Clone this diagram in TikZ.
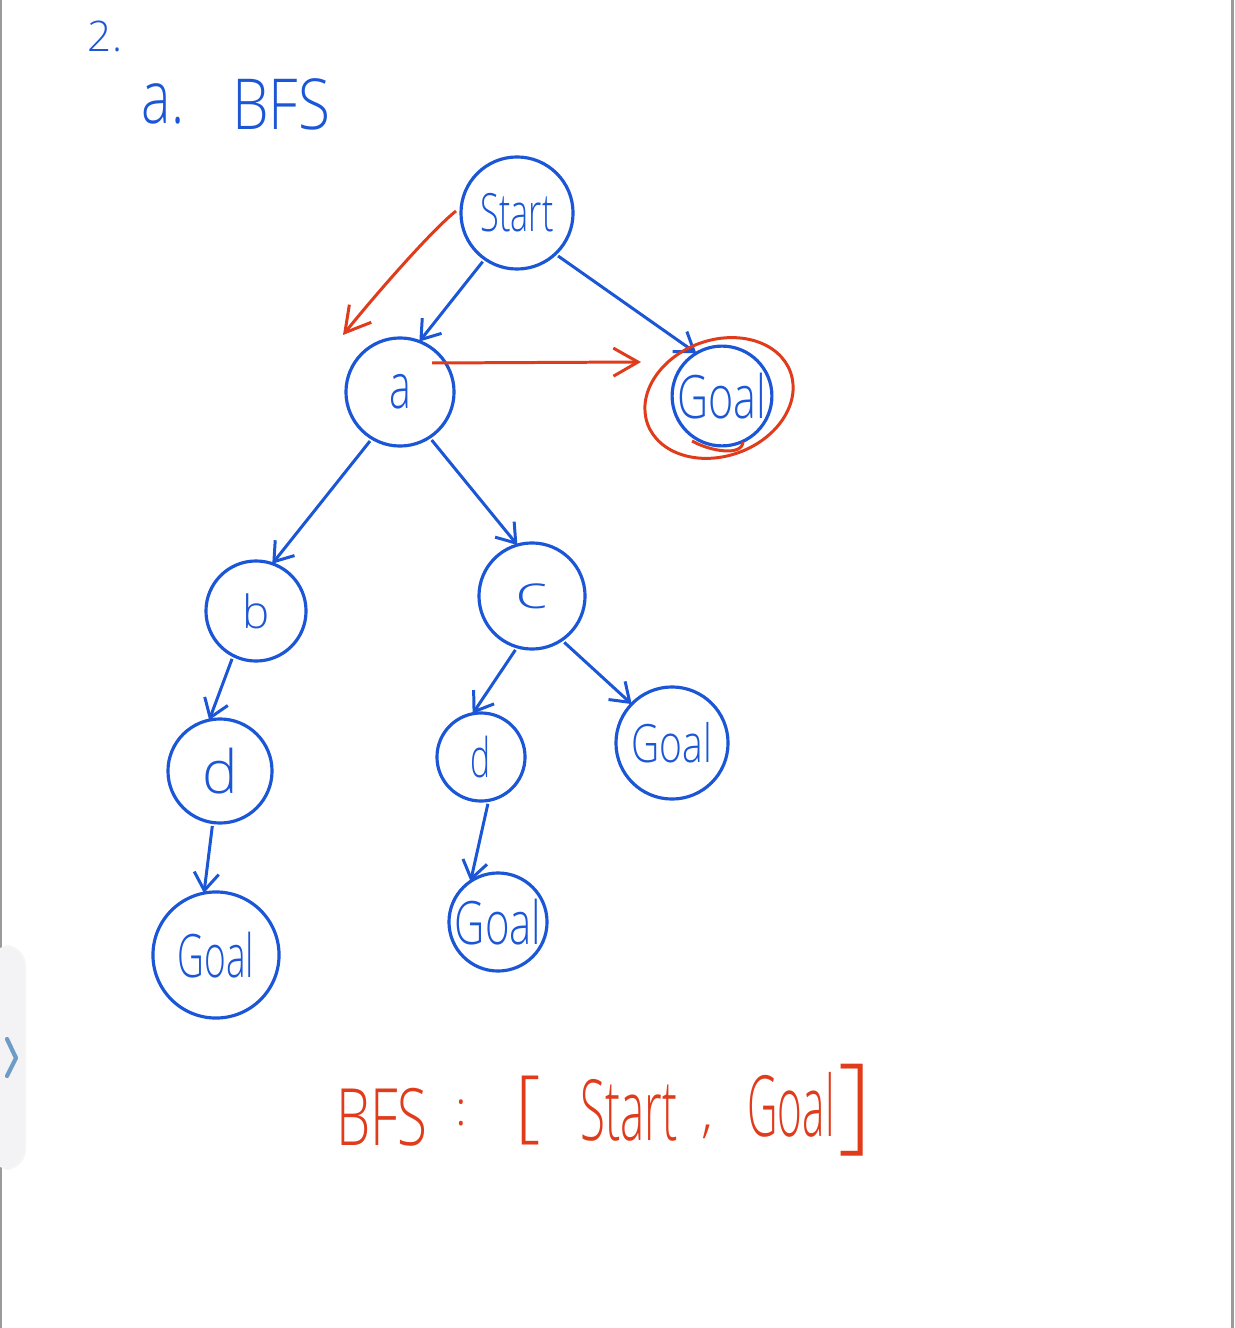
\documentclass[tikz,border=0pt]{standalone}
\usepackage{fontspec}
\setmainfont{Open Sans}[UprightFont={* Light}]
\usetikzlibrary{arrows.meta}
\definecolor{ink}{HTML}{1A56D6}
\definecolor{redink}{HTML}{E03C1C}
\definecolor{tabgrey}{HTML}{F3F3F5}
\definecolor{chev}{HTML}{6E9CC6}
\definecolor{pageborder}{HTML}{9A9A9A}
\newcommand\hwx[2]{\scalebox{#1}[1]{#2}}
\newcommand\fsz[1]{\fontsize{#1}{#1}\selectfont}
\begin{document}
\begin{tikzpicture}[x=0.01cm,y=-0.01cm,
  state/.style={circle,draw=ink,line width=0.9pt,inner sep=0pt,outer sep=0pt,text=ink},
  edge/.style={draw=ink,line width=0.85pt,-{Straight Barb[length=5pt,width=7pt]},shorten <=1pt},
  redarrow/.style={draw=redink,line width=0.85pt,-{Straight Barb[length=7pt,width=8pt]}},
  inktext/.style={inner sep=0pt,text=ink},
  redtext/.style={inner sep=0pt,text=redink}]
\fill[white] (0,0) rectangle (1234,1328);
\useasboundingbox (0,0) rectangle (1234,1328);
% page borders and side tab
\draw[pageborder,line width=0.6pt] (1,0) -- (1,1328);
\draw[pageborder,line width=0.6pt] (1232.5,0) -- (1232.5,1328);
\fill[black!4,rounded corners=6pt] (-10,945) rectangle (26,1170);
\fill[tabgrey,rounded corners=6pt] (-10,947) rectangle (24,1168);
\draw[chev,line width=1.2pt,line cap=round,line join=round] (7,1039) -- (16,1058) -- (7,1076);
% headings
\node[inktext,font=\fsz{12}] (two) at (105,36) {2.};
\node[inktext,font=\fsz{21}] (secA) at (163,104) {\hwx{0.75}{a.}};
\node[inktext,font=\fsz{20}] (secBFS) at (281,104) {\hwx{0.83}{BFS}};
% tree nodes
\node[state,minimum size=1.12cm] (start) at (517,213) {\fsz{15}\hwx{0.65}{Start}};
\node[state,minimum size=1.08cm] (a) at (400,392) {\fsz{18}\hwx{0.65}{a}};
\node[state,minimum size=0.96cm] (goal1) at (722,396) {\fsz{17}\hwx{0.72}{Goal}};
\node[state,minimum size=1.00cm] (b) at (256,611) {\fsz{13}b};
\node[state,minimum size=1.06cm] (c) at (532,596) {\fsz{13}\hwx{1.5}{c}};
\node[state,minimum size=1.04cm] (d1) at (220,771) {\fsz{17}d};
\node[state,minimum size=0.88cm] (d2) at (481,757) {\fsz{15.5}\hwx{0.62}{d}};
\node[state,minimum size=1.12cm] (goal2) at (672,743) {\fsz{15}\hwx{0.74}{Goal}};
\node[state,minimum size=1.26cm] (goal3) at (216,955) {\fsz{17}\hwx{0.62}{Goal}};
\node[state,minimum size=0.98cm] (goal4) at (498,922) {\fsz{17}\hwx{0.7}{Goal}};
% tree edges
\draw[edge] (start.-125) -- (a.69);
\draw[edge] (start.-47) -- (goal1.121);
\draw[edge] (a.-121) -- (b.71);
\draw[edge] (a.-57) -- (c.106);
\draw[edge] (b.-117) -- (d1.102);
\draw[edge] (d1.-98) -- (goal3.101);
\draw[edge] (c.-106) -- (d2.101);
\draw[edge] (c.-56) -- (goal2.136);
\draw[edge] (d2.-80) -- (goal4.124);
% red annotations
\coordinate (rc1) at (456,211);
\coordinate (rc2) at (343,335);
\draw[redarrow] (rc1) .. controls (432,230) and (376,294) .. (rc2);
\coordinate (rs1) at (432,363);
\coordinate (rs2) at (641,362);
\draw[redarrow] (rs1) -- (rs2);
\draw[redink,line width=0.85pt,rotate around={20:(719,398)}] (719,398) ellipse [x radius=76,y radius=58];
\draw[redink,line width=0.85pt] (692,441) .. controls (712,452) and (742,456) .. (743,442);
% result line
\node[redtext,font=\fsz{22.5}] (rBFS) at (382,1117) {\hwx{0.69}{BFS}};
\node[redtext,font=\fsz{14}] (rcolon) at (461,1113) {:};
\node[redtext,font=\fsz{22.5}] (rlb) at (528,1111) {[};
\node[redtext,font=\fsz{24}] (rstart) at (629,1110) {\hwx{0.54}{Start}};
\node[redtext,font=\fsz{16}] (rcomma) at (708,1132) {,};
\node[redtext,font=\fsz{24}] (rgoal) at (791,1105) {\hwx{0.5}{Goal}};
\node[redtext,font=\fsz{30}] (rrb) at (855,1110) {]};
\end{tikzpicture}
\end{document}
